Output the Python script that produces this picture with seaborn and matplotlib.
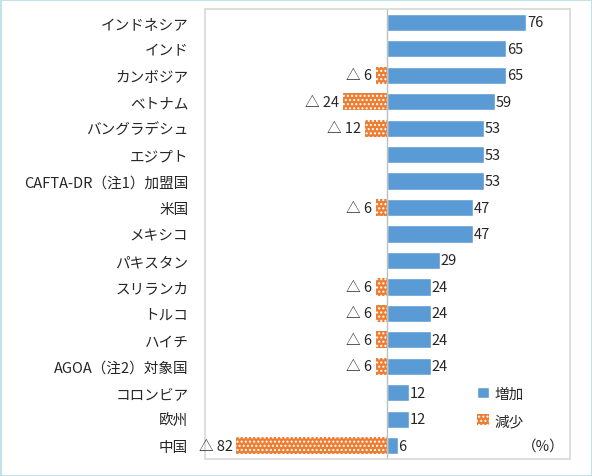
import matplotlib
matplotlib.use("Agg")
import matplotlib.pyplot as plt
import seaborn as sns
import pandas as pd

categories = ["インドネシア","インド","カンボジア","ベトナム","バングラデシュ","エジプト",
              "CAFTA-DR（注1）加盟国","米国","メキシコ","パキスタン","スリランカ","トルコ",
              "ハイチ","AGOA（注2）対象国","コロンビア","欧州","中国"]
increase = [76,65,65,59,53,53,53,47,47,29,24,24,24,24,12,12,6]
decrease = [0,0,6,24,12,0,0,6,0,0,6,6,6,6,0,0,82]

sns.set_theme(style="white")
plt.rcParams['font.family'] = ['Noto Sans CJK JP', 'DejaVu Sans']
plt.rcParams['hatch.color'] = "#FBE0CC"

fig = plt.figure(figsize=(5.92, 4.77), dpi=100)
fig.patch.set_edgecolor("#BFE3E6"); fig.patch.set_linewidth(2)
ax = fig.add_axes([205/592, 1-460/477, 365/592, 450/477])

df = pd.DataFrame({"cat": categories, "inc": increase, "dec": [-d for d in decrease]})
sns.barplot(data=df, y="cat", x="inc", color="#5B9BD5", width=0.65, ax=ax, label="増加", saturation=1)
sns.barplot(data=df, y="cat", x="dec", color="#ED7D31", width=0.65, ax=ax, label="減少", saturation=1)
n = len(categories)
for p in ax.patches[n:]:
    p.set_hatch("...."); p.set_linewidth(0)

for i, (a, d) in enumerate(zip(increase, decrease)):
    ax.text(a + 0.5, i, str(a), va="center", ha="left", fontsize=10.5)
    if d:
        ax.text(-d - 2, i, f"△ {d}", va="center", ha="right", fontsize=10.5)

ax.axvline(0, color="#BFBFBF", lw=1)
ax.set_xlim(-99, 100)
ax.set_ylim(n - 0.5, -0.5)
ax.set_xticks([])
ax.set_xlabel(""); ax.set_ylabel("")
ax.tick_params(axis="y", length=0, labelsize=10.5, pad=12)
for s in ax.spines.values():
    s.set_color("#D9D9D9")
ax.text(97, n - 1, "（%）", ha="right", va="center", fontsize=10.5)
ax.legend(loc="lower right", bbox_to_anchor=(0.91, 0.04), frameon=False, fontsize=10.5,
          handlelength=0.8, handleheight=0.8, handletextpad=0.4, labelspacing=0.9)
fig.savefig("out.png", dpi=100)
